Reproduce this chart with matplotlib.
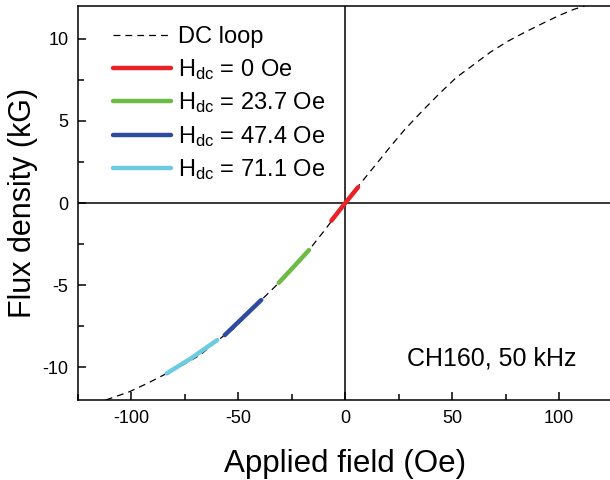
import matplotlib
matplotlib.use("Agg")
import matplotlib.pyplot as plt
from matplotlib.ticker import MultipleLocator

plt.rcParams["font.family"] = ["Liberation Sans", "DejaVu Sans"]
plt.rcParams["mathtext.fontset"] = "custom"
plt.rcParams["mathtext.rm"] = "Liberation Sans"
plt.rcParams["mathtext.it"] = "Liberation Sans"
plt.rcParams["axes.unicode_minus"] = False

# DC B-H curve (Oe, kG)
dc_h = [-112, -101, -92, -83.5, -76, -68, -60, -52, -45, -38, -31, -24, -17,
        -10, -5, 0, 5, 10, 15, 21, 28, 36, 44, 52, 60, 68, 76, 84, 92, 100,
        107, 112]
dc_b = [-12.0, -11.5, -10.95, -10.38, -9.87, -9.27, -8.4, -7.62, -6.72,
        -5.75, -4.86, -3.87, -2.87, -1.72, -0.86, 0.0, 0.86, 1.65, 2.45,
        3.42, 4.5, 5.6, 6.66, 7.65, 8.42, 9.2, 9.85, 10.4, 10.92, 11.42,
        11.8, 12.0]

# minor loops at 50 kHz for each bias field
hdc_labels = ["0", "23.7", "47.4", "71.1"]
loop_h = [[-6.5, 0.0, 6.0],
          [-31.1, -24.0, -17.0],
          [-56.4, -48.0, -39.3],
          [-83.5, -72.0, -59.9]]
loop_b = [[-1.08, 0.0, 0.96],
          [-4.86, -3.87, -2.87],
          [-8.05, -7.0, -5.91],
          [-10.38, -9.45, -8.35]]
loop_colors = ["#ea2127", "#6cbb45", "#2f4b9f", "#6ccbe0"]

fig = plt.figure(figsize=(6.1, 4.8), dpi=100)
ax = fig.add_axes([78 / 610, 80 / 480, 534.5 / 610, 394 / 480])

ax.axhline(0, color="black", lw=1.1, zorder=1)
ax.axvline(0, color="black", lw=1.1, zorder=1)

ax.plot(dc_h, dc_b, color="black", lw=0.9, ls=(0, (5.5, 4)), label="DC loop",
        zorder=2)
for h, b, c, lab in zip(loop_h, loop_b, loop_colors, hdc_labels):
    ax.plot(h, b, color=c, lw=3.2, solid_capstyle="round",
            label=r"H$_{\rm dc}$ = " + lab + " Oe", zorder=3)

ax.set_xlim(-125, 125)
ax.set_ylim(-12, 12)
ax.xaxis.set_major_locator(MultipleLocator(50))
ax.xaxis.set_minor_locator(MultipleLocator(25))
ax.yaxis.set_major_locator(MultipleLocator(5))
ax.yaxis.set_minor_locator(MultipleLocator(2.5))
ax.tick_params(which="both", direction="in", top=False, right=False,
               labelsize=13, width=1.1)
ax.tick_params(which="major", length=6, pad=7)
ax.tick_params(which="minor", length=4)
for s in ax.spines.values():
    s.set_linewidth(1.1)

ax.set_xlabel("Applied field (Oe)", fontsize=22.5, labelpad=16)
ax.set_ylabel("Flux density (kG)", fontsize=22, labelpad=3)

ax.text(29, -9.9, "CH160, 50 kHz", fontsize=18, ha="left", va="baseline")

ax.legend(loc="upper left", bbox_to_anchor=(0.065, 0.948), frameon=False,
          fontsize=17, handlelength=2.45, handletextpad=0.3, borderpad=0,
          borderaxespad=0, labelspacing=0.36)

fig.savefig("out.png", dpi=100)
